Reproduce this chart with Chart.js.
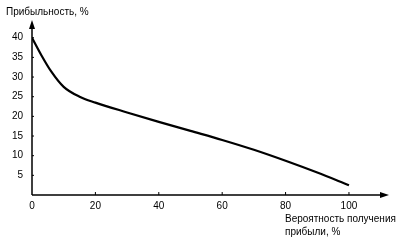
<!DOCTYPE html>
<html><head><meta charset="utf-8">
<script src="https://cdn.jsdelivr.net/npm/chart.js@4/dist/chart.umd.min.js"></script>
<style>html,body{margin:0;padding:0;background:#fff}#w{width:403px;height:244px}</style>
</head><body><div id="w"><canvas id="c"></canvas></div>
<script>
const probability = [0, 3, 6, 10, 15, 20, 30, 40, 50, 60, 70, 80, 90, 100];
const profitability = [40, 35.5, 31.5, 27.5, 25, 23.5, 21, 18.6, 16.3, 14, 11.5, 8.7, 5.7, 2.5];
const xTicks = [0, 20, 40, 60, 80, 100];
const yTicks = [5, 10, 15, 20, 25, 30, 35, 40];
const yTitle = 'Прибыльность, %';
const xTitle = ['Вероятность получения', 'прибыли, %'];

const FONT = '"Liberation Sans", Arial, sans-serif';
const axesPlugin = {
  id: 'axesDeco',
  afterDraw(chart) {
    const {ctx, chartArea: a, scales: {x, y}} = chart;
    ctx.save();
    ctx.strokeStyle = '#000'; ctx.fillStyle = '#000'; ctx.lineWidth = 1.5;
    const x0 = x.getPixelForValue(0), y0 = y.getPixelForValue(0);
    ctx.beginPath(); ctx.moveTo(x0, y0); ctx.lineTo(a.right - 4, y0);
    ctx.moveTo(x0, y0); ctx.lineTo(x0, a.top + 4); ctx.stroke();
    ctx.beginPath(); ctx.moveTo(a.right + 2, y0); ctx.lineTo(a.right - 7, y0 - 3); ctx.lineTo(a.right - 7, y0 + 3); ctx.closePath(); ctx.fill();
    ctx.beginPath(); ctx.moveTo(x0, a.top - 2); ctx.lineTo(x0 - 3, a.top + 7); ctx.lineTo(x0 + 3, a.top + 7); ctx.closePath(); ctx.fill();
    ctx.lineWidth = 1;
    ctx.beginPath();
    xTicks.forEach(v => { if (v) { const px = x.getPixelForValue(v); ctx.moveTo(px, y0); ctx.lineTo(px, y0 - 3); } });
    yTicks.forEach(v => { const py = y.getPixelForValue(v); ctx.moveTo(x0, py); ctx.lineTo(x0 + 2, py); });
    ctx.stroke();
    ctx.font = '10px ' + FONT; ctx.textBaseline = 'middle'; ctx.textAlign = 'left';
    ctx.fillText(yTitle, 6, 12);
    ctx.fillText(xTitle[0], 285, 219);
    ctx.fillText(xTitle[1], 285, 232);
    ctx.restore();
  }
};

new Chart(document.getElementById('c'), {
  type: 'line',
  data: { datasets: [{ data: probability.map((p, i) => ({x: p, y: profitability[i]})),
    borderColor: '#000', borderWidth: 2.2, pointRadius: 0, cubicInterpolationMode: 'monotone', fill: false }] },
  options: {
    responsive: true, maintainAspectRatio: false, animation: false,
    layout: { padding: { top: 22, right: 16, left: 0, bottom: 0 } },
    plugins: { legend: { display: false }, tooltip: { enabled: false } },
    scales: {
      x: { type: 'linear', min: 0, max: 112,
        afterFit(s) { s.height = 49; },
        afterBuildTicks(s) { s.ticks = xTicks.map(v => ({value: v})); },
        grid: { display: false, drawTicks: false }, border: { display: false },
        ticks: { color: '#000', font: { family: FONT, size: 10 }, padding: 5, maxRotation: 0 } },
      y: { min: 0, max: 44,
        afterFit(s) { s.width = 32; },
        afterBuildTicks(s) { s.ticks = yTicks.map(v => ({value: v})); },
        grid: { display: false, drawTicks: false }, border: { display: false },
        ticks: { color: '#000', font: { family: FONT, size: 10 }, padding: 9 } }
    }
  },
  plugins: [axesPlugin]
});
</script></body></html>
